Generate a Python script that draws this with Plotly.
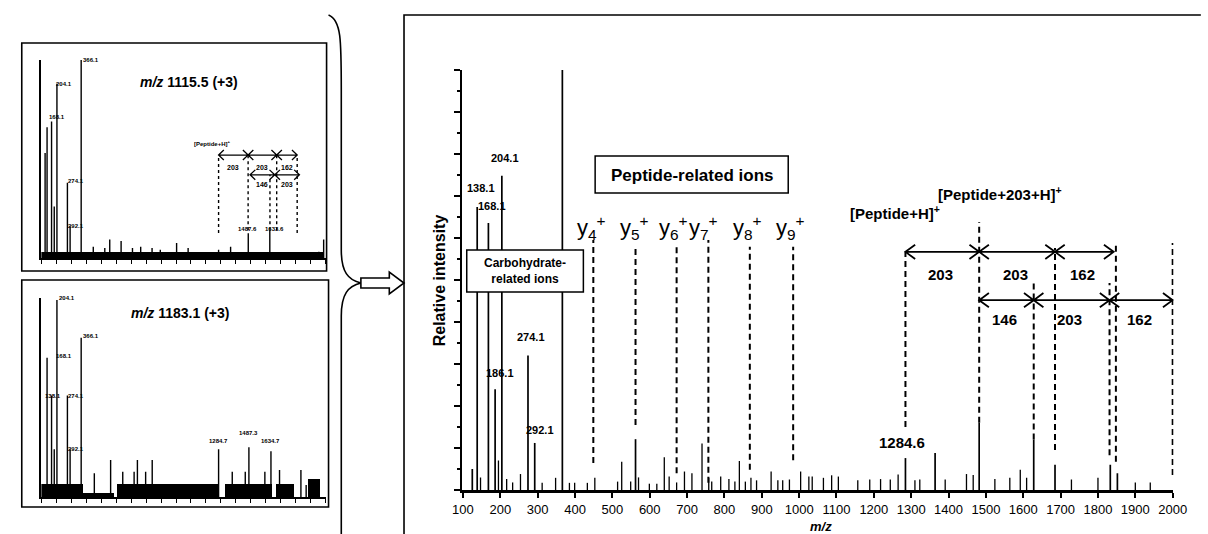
import plotly.graph_objects as go

W, H = 1208, 534
FONT = "Liberation Sans, Arial, sans-serif"

# ---------------- data: main spectrum ----------------
main_peak_mz = [125, 138.1, 168.1, 186.1, 204.1, 274.1, 292.1, 366.1,
                562, 1284.6, 1364, 1482, 1628, 1685, 1833, 1852]
main_peak_int = [5.0, 67.4, 63.6, 24.0, 74.8, 32.0, 11.2, 100.0,
                 12.1, 7.6, 8.8, 16.0, 12.0, 6.0, 6.0, 4.0]
main_minor_mz = [147, 195, 217, 233, 254, 312, 348, 385, 399, 433, 453, 514, 525, 549,
                 570, 599, 619, 639, 652, 672, 693, 713, 740, 758, 766, 790, 812, 828,
                 840, 856, 871, 886, 925, 943, 956, 974, 1004, 1026, 1035, 1065, 1087,
                 1105, 1157, 1189, 1218, 1244, 1265, 1310, 1323, 1391, 1448, 1466, 1524,
                 1564, 1592, 1609, 1729, 1800, 1900, 1940]
main_minor_int = [3.0, 7.0, 2.6, 1.8, 3.8, 1.7, 2.9, 1.7, 1.7, 1.7, 2.9, 2.0, 6.7, 2.0,
                  3.0, 1.5, 1.5, 7.8, 3.2, 1.8, 4.4, 4.0, 11.1, 2.9, 2.0, 3.2, 2.6, 2.0,
                  6.9, 2.0, 2.9, 2.3, 4.4, 2.3, 2.3, 2.5, 4.4, 3.2, 3.2, 2.9, 3.5,
                  3.2, 2.3, 2.5, 2.6, 2.5, 3.7, 2.3, 2.5, 2.5, 3.8, 3.6, 2.6,
                  2.9, 4.8, 2.9, 2.5, 2.9, 1.8, 1.8]
main_label_text = ["138.1", "168.1", "186.1", "204.1", "274.1", "292.1", "366.1"]

# y-ion and glycan marker lines (m/z)
yion_names = ["4", "5", "6", "7", "8", "9"]
yion_mz = [449, 562, 672, 757, 868, 984]
glyco_mz = [1284.6, 1482, 1628, 1685, 1831, 1848, 2000]
row1_pairs = [(1284.6, 1482), (1482, 1685), (1685, 1842)]
row1_labels = ["203", "203", "162"]
row2_pairs = [(1482, 1628), (1628, 1831), (1831, 2000)]
row2_labels = ["146", "203", "162"]
x_ticks = list(range(100, 2001, 100))

# ---------------- data: inset 1 (m/z 1115.5) ----------------
in1_mz = [125, 138.1, 168.1, 186.1, 204.1, 274.1, 292.1, 366.1, 447, 524, 557, 633, 709, 764,
          840, 895, 1004, 1081, 1201, 1284.6, 1365, 1483, 1627, 1692, 1769, 1856, 1955, 1987]
in1_int = [53, 66, 69, 26, 88, 38, 16, 100, 5.7, 5.0, 9.4, 8.6, 5.0, 5.7,
           5.0, 4.2, 7.6, 5.0, 2.0, 4.2, 5.7, 12.5, 14.1, 2.4, 2.4, 2.4, 3.2, 9.4]
in1_glyco_mz = [1284.6, 1482, 1628, 1673, 1810]
in1_row1 = [(1284.6, 1482), (1482, 1673), (1673, 1810)]
in1_row2 = [(1495, 1660), (1660, 1825)]

# ---------------- data: inset 2 (m/z 1183.1) ----------------
in2_mz = [138.1, 168.1, 186.1, 204.1, 274.1, 292.1, 366.1, 454, 563, 644, 720, 742, 797, 841,
          1284.7, 1376, 1463, 1487.3, 1594, 1634.7, 1692, 1835, 1870]
in2_int = [70, 51, 24, 99, 51, 24, 80, 11.9, 18.6, 12.7, 12.7, 18.6, 12.7, 18.6,
           24, 12.7, 12.7, 25, 12.7, 23, 13.6, 13.6, 6]
in2_band_start = [100, 382, 611, 1332, 1672, 1888]
in2_band_end = [382, 591, 1287, 1647, 1790, 1966]
in2_band_h = [6.5, 2.0, 6.5, 6.5, 6.5, 9.0]


def px(x):
    return x / W


def py(y):
    return 1 - y / H


def sticks(mz, inten):
    xs, ys = [], []
    for m, h in zip(mz, inten):
        xs += [m, m, None]
        ys += [0, h, None]
    return xs, ys


fig = go.Figure()

# main spectrum
xs, ys = sticks(main_minor_mz, main_minor_int)
fig.add_trace(go.Scatter(x=xs, y=ys, mode="lines", line=dict(color="black", width=1.3),
                         hoverinfo="skip", showlegend=False, xaxis="x", yaxis="y"))
xs, ys = sticks(main_peak_mz, main_peak_int)
fig.add_trace(go.Scatter(x=xs, y=ys, mode="lines", line=dict(color="black", width=1.7),
                         hoverinfo="skip", showlegend=False, xaxis="x", yaxis="y"))

# inset 1
xs, ys = sticks(in1_mz, in1_int)
fig.add_trace(go.Scatter(x=xs, y=ys, mode="lines", line=dict(color="black", width=1.4),
                         hoverinfo="skip", showlegend=False, xaxis="x2", yaxis="y2"))
fig.add_trace(go.Bar(x=[(100 + 1990) / 2], y=[3], width=[1890], marker=dict(color="black", line=dict(width=0)),
                     hoverinfo="skip", showlegend=False, xaxis="x2", yaxis="y2"))

# inset 2
xs, ys = sticks(in2_mz, in2_int)
fig.add_trace(go.Scatter(x=xs, y=ys, mode="lines", line=dict(color="black", width=1.4),
                         hoverinfo="skip", showlegend=False, xaxis="x3", yaxis="y3"))
fig.add_trace(go.Bar(x=[(a + b) / 2 for a, b in zip(in2_band_start, in2_band_end)], y=in2_band_h,
                     width=[b - a for a, b in zip(in2_band_start, in2_band_end)],
                     marker=dict(color="black", line=dict(width=0)),
                     hoverinfo="skip", showlegend=False, xaxis="x3", yaxis="y3"))

shapes = []
annotations = []


def dline(x, y0, y1, xr="x", yr="y", w=2.0, dash="6px,4px"):
    shapes.append(dict(type="line", xref=xr, yref=yr, x0=x, x1=x, y0=y0, y1=y1,
                       line=dict(color="black", width=w, dash=dash)))


def darrow(a, b, y, dx, dy, xr="x", yr="y", w=1.8):
    path = (f"M{a + dx},{y + dy} L{a},{y} L{a + dx},{y - dy} "
            f"M{a},{y} L{b},{y} "
            f"M{b - dx},{y + dy} L{b},{y} L{b - dx},{y - dy}")
    shapes.append(dict(type="path", xref=xr, yref=yr, path=path,
                       line=dict(color="black", width=w)))


def text(t, x, y, size, xr="paper", yr="paper", bold=False, **kw):
    if xr == "paper":
        x = px(x)
    if yr == "paper":
        y = py(y)
    annotations.append(dict(text=(f"<b>{t}</b>" if bold else t), x=x, y=y, xref=xr, yref=yr,
                            showarrow=False, xanchor="center", yanchor="middle",
                            textangle=kw.get("angle", 0),
                            font=dict(family=FONT, size=size, color="black")))


# ---- main panel frame ----
shapes.append(dict(type="path", xref="paper", yref="paper",
                   path=f"M{px(402)},{py(540)} L{px(402)},{py(15)} L{px(1215)},{py(15)}",
                   line=dict(color="black", width=1.6)))

# ---- y-ion dashed lines ----
yion_top = [59.5, 57.9, 57.9, 59.5, 57.9, 57.9]
yion_bot = [6.4, 15.5, 4.0, 1.7, 4.8, 7.1]
for m, t, b in zip(yion_mz, yion_top, yion_bot):
    dline(m, b, t)
yion_lab_x = [443, 559, 664, 745, 861, 976]
for n, lx in zip(yion_names, yion_lab_x):
    text(f"y<sub>{n}</sub><sup>+</sup>", lx, 62.5, 22, xr="x", yr="y")

# ---- glycan dashed lines ----
glyco_top = [56.7, 63.8, 49.3, 57.6, 49.3, 58.8, 58.8]
glyco_bot = [15.0, 16.0, 12.0, 9.5, 8.3, 6.7, 3.6]
for m, t, b in zip(glyco_mz, glyco_top, glyco_bot):
    dline(m, b, t)

DX, DY = 26, 1.7
for (a, b) in row1_pairs:
    darrow(a, b, 56.7, DX, DY)
for (a, b) in row2_pairs:
    darrow(a, b, 45.2, DX, DY)
for (a, b), lab in zip(row1_pairs, row1_labels):
    text(lab, (a + b) / 2 - 5, 51.2, 15, xr="x", yr="y", bold=True)
for (a, b), lab in zip(row2_pairs, row2_labels):
    text(lab, (a + b) / 2 - 5, 40.5, 15, xr="x", yr="y", bold=True)

# ---- peak labels ----
lab_pos = [(147, 71.9), (178, 67.6), (199, 27.9), (212, 79.0), (283, 36.4), (307, 14.3), (375, 102.4)]
for t, (lx, ly) in zip(main_label_text, lab_pos):
    text(t, lx, ly, 11, xr="x", yr="y", bold=True)
text("1284.6", 1275, 11.2, 15, xr="x", yr="y", bold=True)
text("[Peptide+H]<sup>+</sup>", 1257, 66.0, 15, xr="x", yr="y", bold=True)
text("[Peptide+203+H]<sup>+</sup>", 1538, 70.7, 15, xr="x", yr="y", bold=True)

# ---- boxes ----
shapes.append(dict(type="rect", xref="paper", yref="paper", x0=px(597), x1=px(794), y0=py(193), y1=py(156),
                   fillcolor="white", line=dict(color="black", width=1.5)))
text("Peptide-related ions", 695.5, 175, 17, bold=True)
shapes.append(dict(type="rect", xref="paper", yref="paper", x0=px(466), x1=px(585), y0=py(292), y1=py(250),
                   fillcolor="white", line=dict(color="black", width=1.5)))
text("Carbohydrate-<br>related ions", 525.5, 271, 12, bold=True)

# ---- axis titles ----
text("Relative intensity", 438, 280, 16, angle=-90, bold=True)
text("<i>m/z</i>", 827, 526, 13, bold=True)

# ---- inset frames ----
shapes.append(dict(type="rect", xref="paper", yref="paper", x0=px(12), x1=px(323), y0=py(271), y1=py(43),
                   line=dict(color="black", width=1.6)))
shapes.append(dict(type="rect", xref="paper", yref="paper", x0=px(12), x1=px(325), y0=py(507), y1=py(280),
                   line=dict(color="black", width=1.6)))

# inset 1 annotations
text("<i>m/z</i> 1115.5 (+3)", 183, 82, 14, bold=True)
in1_top = [51, 52, 42, 52, 52]
in1_bot = [12.6, 14, 14, 14, 12.6]
for m, t, b in zip(in1_glyco_mz, in1_top, in1_bot):
    dline(m, b, t, xr="x2", yr="y2", w=1.4, dash="3px,3px")
for (a, b) in in1_row1:
    darrow(a, b, 52, 35, 2.5, xr="x2", yr="y2", w=1.3)
for (a, b) in in1_row2:
    darrow(a, b, 42, 35, 2.5, xr="x2", yr="y2", w=1.3)
for (a, b), lab in zip(in1_row1, ["203", "203", "162"]):
    text(lab, (a + b) / 2, 45.5, 7, xr="x2", yr="y2", bold=True)
for (a, b), lab in zip(in1_row2, ["146", "203"]):
    text(lab, (a + b) / 2, 36.9, 7, xr="x2", yr="y2", bold=True)
text("[Peptide+H]<sup>+</sup>", 207, 143, 6, bold=True)
text("1487.6", 1480, 14.5, 6, xr="x2", yr="y2", bold=True)
text("1633.6", 1660, 14.5, 6, xr="x2", yr="y2", bold=True)
for t, (lx, ly) in zip(["366.1", "204.1", "168.1", "274.1", "292.1"],
                       [(430, 100), (250, 88), (205, 71), (330, 39), (330, 16)]):
    text(t, lx, ly, 6, xr="x2", yr="y2", bold=True)

# inset 2 annotations
text("<i>m/z</i> 1183.1 (+3)", 173, 313, 14, bold=True)
for t, (lx, ly) in zip(["204.1", "366.1", "168.1", "138.1", "274.1", "292.1"],
                       [(270, 100), (430, 81), (250, 71), (180, 51), (330, 51), (330, 24)]):
    text(t, lx, ly, 6, xr="x3", yr="y3", bold=True)
text("1284.7", 1284.7, 28, 6, xr="x3", yr="y3", bold=True)
text("1487.3", 1487.3, 32, 6, xr="x3", yr="y3", bold=True)
text("1634.7", 1634.7, 28, 6, xr="x3", yr="y3", bold=True)

# ---- brace and block arrow ----
brace = (f"M{px(325)},{py(15)} C{px(338)},{py(20)} {px(338)},{py(40)} {px(338)},{py(90)} "
         f"L{px(338)},{py(250)} C{px(338)},{py(272)} {px(345)},{py(280)} {px(358)},{py(283)} "
         f"C{px(345)},{py(286)} {px(338)},{py(294)} {px(338)},{py(316)} L{px(338)},{py(540)}")
shapes.append(dict(type="path", xref="paper", yref="paper", path=brace,
                   line=dict(color="black", width=1.6)))
arrow = (f"M{px(358)},{py(278)} L{px(387)},{py(278)} L{px(387)},{py(272)} L{px(402)},{py(283)} "
         f"L{px(387)},{py(294)} L{px(387)},{py(288)} L{px(358)},{py(288)} Z")
shapes.append(dict(type="path", xref="paper", yref="paper", path=arrow, fillcolor="white",
                   line=dict(color="black", width=1.6)))

ax_common = dict(showgrid=False, zeroline=False, showline=True, linecolor="black")

fig.update_layout(
    width=W, height=H, autosize=False, margin=dict(l=0, r=0, t=0, b=0),
    paper_bgcolor="white", plot_bgcolor="rgba(0,0,0,0)",
    barmode="overlay", bargap=0,
    shapes=shapes, annotations=annotations,
    xaxis=dict(domain=[px(461), px(1187)], range=[97, 2002], anchor="y",
               tickvals=x_ticks, ticks="outside", ticklen=5, tickwidth=1.5, tickcolor="black",
               tickfont=dict(family=FONT, size=13, color="black"), tickprefix="<b>", ticksuffix="</b>",
               linewidth=3, **ax_common),
    yaxis=dict(domain=[py(490), py(70)], range=[0, 100], anchor="x",
               dtick=10, tick0=0, ticks="outside", ticklen=6, tickwidth=1.5, tickcolor="black",
               showticklabels=False, linewidth=2,
               minor=dict(dtick=5, ticks="outside", ticklen=3, tickcolor="black"),
               **ax_common),
    xaxis2=dict(domain=[px(32), px(322)], range=[100, 2000], anchor="y2",
                dtick=100, ticks="outside", ticklen=4, tickcolor="black", showticklabels=False,
                linewidth=2, **ax_common),
    yaxis2=dict(domain=[py(258), py(60)], range=[0, 100], anchor="x2",
                showticklabels=False, ticks="", linewidth=1.5, **ax_common),
    xaxis3=dict(domain=[px(32), px(322)], range=[100, 2000], anchor="y3",
                dtick=100, ticks="outside", ticklen=4, tickcolor="black", showticklabels=False,
                linewidth=2, **ax_common),
    yaxis3=dict(domain=[py(497), py(298)], range=[0, 100], anchor="x3",
                showticklabels=False, ticks="", linewidth=1.5, **ax_common),
)

fig.write_html("out.html", config={"responsive": False, "displayModeBar": False},
               post_script="document.body.style.margin='0';document.body.style.overflow='hidden';")
